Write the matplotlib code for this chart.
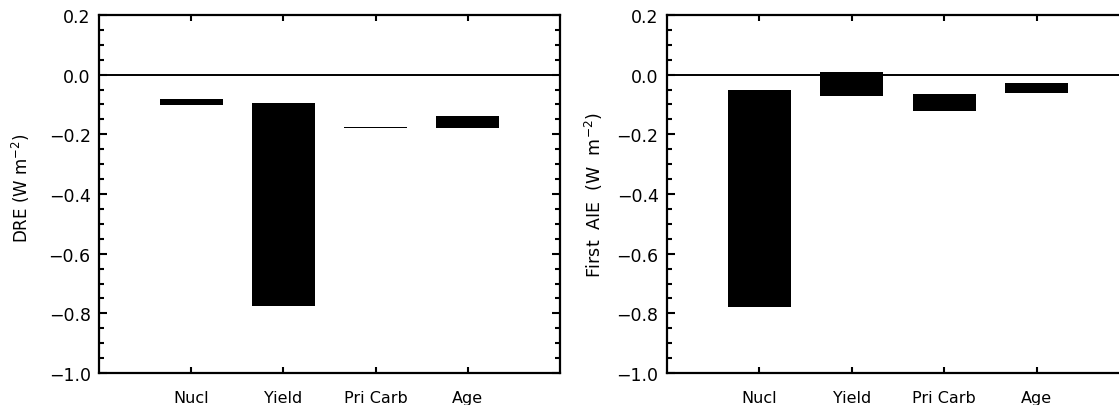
import matplotlib
matplotlib.use('Agg')
import matplotlib.pyplot as plt
from matplotlib.ticker import MultipleLocator

# categories and bar extents (bottom, top)
categories = ['Nucl', 'Yield', 'Pri Carb', 'Age']

dre_top    = [-0.082, -0.095, -0.1765, -0.140]
dre_bottom = [-0.103, -0.775, -0.1785, -0.180]

aie_top    = [-0.053,  0.010, -0.064, -0.027]
aie_bottom = [-0.778, -0.071, -0.122, -0.063]

ylabels = ['DRE (W m$^{-2}$)', 'First  AIE  (W  m$^{-2}$)']

plt.rcParams['font.family'] = 'DejaVu Sans'

fig = plt.figure(figsize=(11.19, 4.06), dpi=100)
ax1 = fig.add_axes([0.0885, 0.0788, 0.4119, 0.8818])
ax2 = fig.add_axes([0.5960, 0.0788, 0.4129, 0.8818])

xpos = [1, 2, 3, 4]
panels = [(ax1, dre_top, dre_bottom, ylabels[0], 12, (-0.145, 0.52)),
          (ax2, aie_top, aie_bottom, ylabels[1], 12.5, (-0.134, 0.50))]
for ax, tops, bots, lab, lsize, lpos in panels:
    heights = [t - b for t, b in zip(tops, bots)]
    ax.bar(xpos, heights, bottom=bots, width=0.68, color='black', linewidth=0)
    ax.axhline(0.0, color='black', linewidth=1.4)
    ax.set_xlim(0, 5)
    ax.set_ylim(-1.0, 0.2)
    ax.set_xticks(xpos)
    ax.set_xticklabels(categories)
    ax.yaxis.set_major_locator(MultipleLocator(0.2))
    ax.yaxis.set_minor_locator(MultipleLocator(0.05))
    ax.set_yticklabels([f'{v:.1f}'.replace('-', '\u2212') for v in ax.get_yticks()])
    ax.tick_params(axis='both', which='both', direction='in', width=1.5,
                   top=True, right=True, labelsize=12.5)
    ax.tick_params(axis='x', which='major', length=4, pad=12, labelsize=11.5)
    ax.tick_params(axis='y', which='major', length=6, pad=6)
    ax.tick_params(axis='y', which='minor', length=3.5)
    ax.tick_params(axis='x', which='minor', bottom=False, top=False)
    for s in ax.spines.values():
        s.set_linewidth(1.6)
    ax.set_ylabel(lab, fontsize=lsize)
    ax.yaxis.set_label_coords(*lpos)

plt.savefig('out.png', dpi=100)
plt.close()
